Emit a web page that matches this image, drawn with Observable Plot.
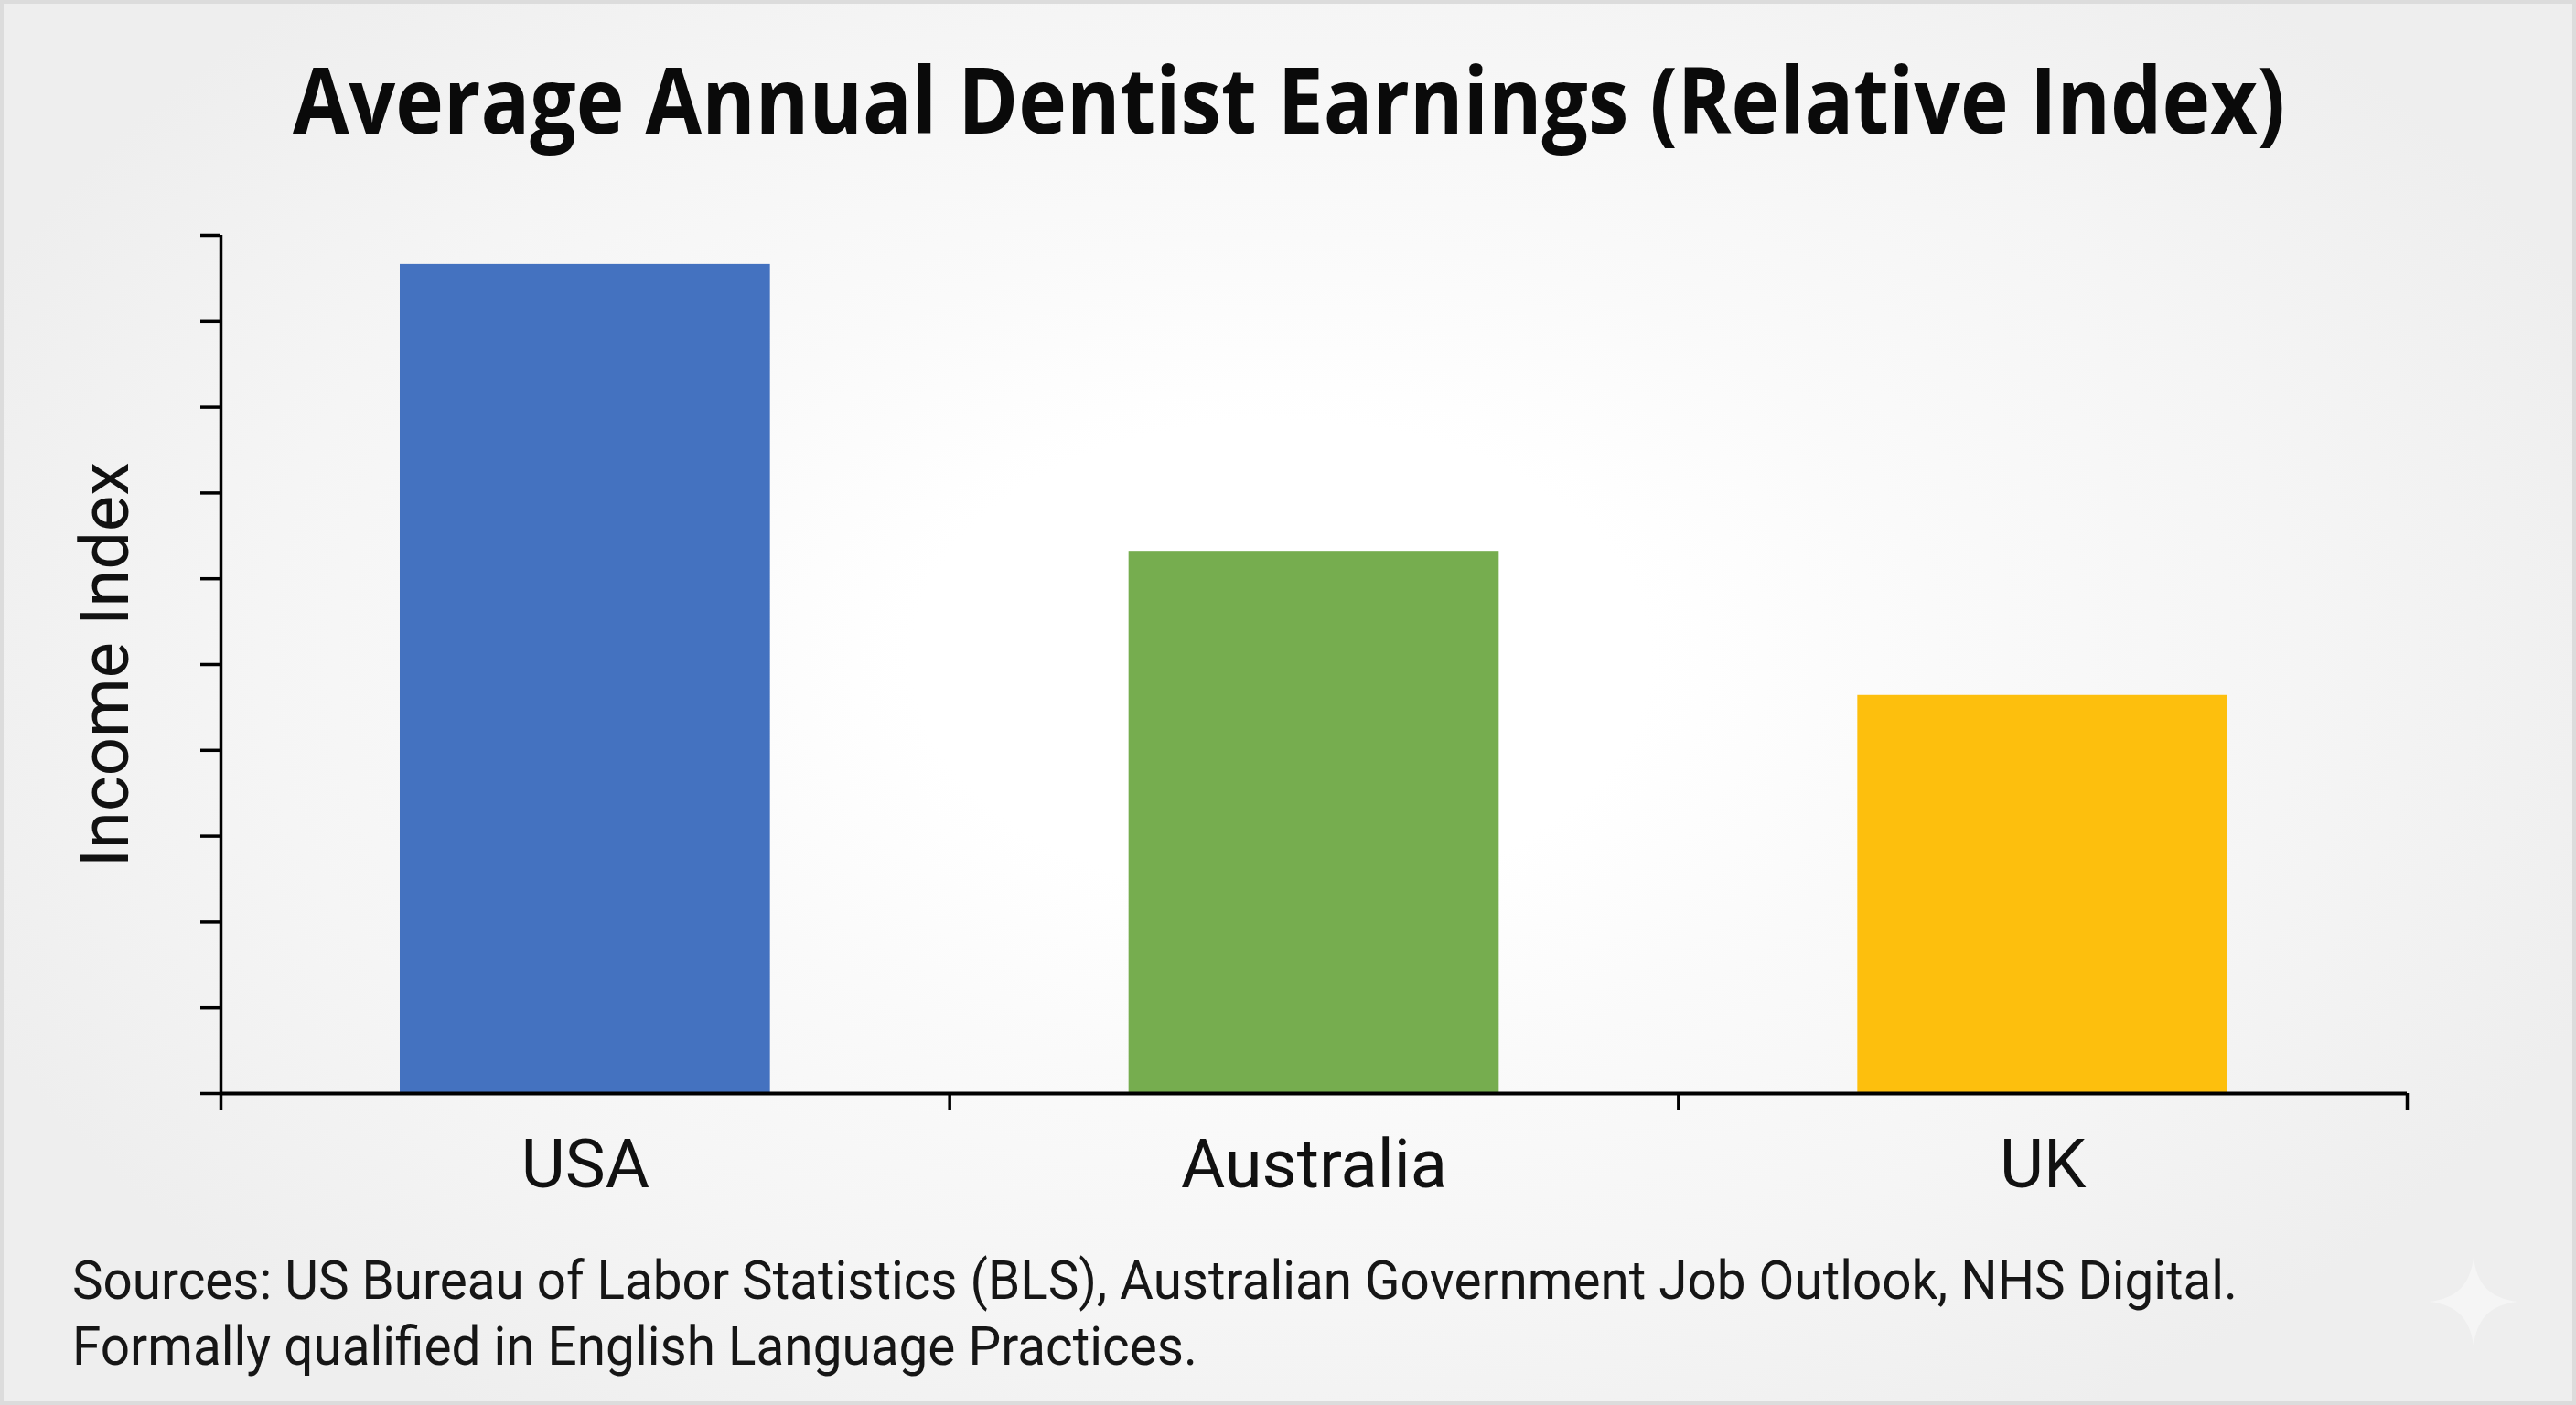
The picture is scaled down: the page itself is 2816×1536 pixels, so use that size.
<!DOCTYPE html>
<html>
<head>
<meta charset="utf-8">
<script src="https://cdn.jsdelivr.net/npm/d3@7"></script>
<script src="https://cdn.jsdelivr.net/npm/@observablehq/plot@0.6"></script>
<style>
  html, body { margin: 0; padding: 0; }
  body {
    width: 2816px; height: 1536px; position: relative; overflow: hidden;
    box-sizing: border-box;
    border: 4px solid #dcdcdc;
    background: radial-gradient(ellipse 1550px 1000px at 1400px 720px, #ffffff 26%, #fafafa 46%, #f5f5f5 72%, #eeeeee 100%);
  }
  #chart { position: absolute; left: -4px; top: -4px; width: 2816px; height: 1536px; }
  #chart svg { display: block; background: transparent; max-width: none; }
  .t { position: absolute; white-space: nowrap; transform-origin: 0 0; color: #0d0d0d; }
  #title { left: 316px; top: 43px; font: 700 100px/1.2 "Open Sans", sans-serif; color: #0a0a0a; }
  .cap { left: 75px; font: 400 59px/72px Roboto, sans-serif; color: #161616; }
  #star { position: absolute; left: 2652px; top: 1371px; width: 96px; height: 96px; background: #f5f5f5;
          clip-path: path("M48 0 C52 30 66 44 96 48 C66 52 52 66 48 96 C44 66 30 52 0 48 C30 44 44 30 48 0 Z"); }
</style>
</head>
<body>
<div id="title" class="t">Average Annual Dentist Earnings (Relative Index)</div>
<div id="chart"></div>
<div id="cap1" class="t cap" style="top:1360px">Sources: US Bureau of Labor Statistics (BLS), Australian Government Job Outlook, NHS Digital.</div>
<div id="cap2" class="t cap" style="top:1432px">Formally qualified in English Language Practices.</div>
<div id="star"></div>
<script>
const categories = ["USA", "Australia", "UK"];
const incomeIndex = [96.6, 63.2, 46.4];
const barColors = ["#4472c0", "#76ad4f", "#fdbf0d"];
const yTicks = [0, 10, 20, 30, 40, 50, 60, 70, 80, 90, 100];
const xEdges = [0, 1, 2, 3];
const xCenters = [0.5, 1.5, 2.5];
const yLabel = "Income Index";

const rows = categories.map((c, i) => ({ c, i, v: incomeIndex[i], color: barColors[i] }));

const plot = Plot.plot({
  width: 2816,
  height: 1536,
  marginLeft: 241,
  marginRight: 185,
  marginTop: 257,
  marginBottom: 341,
  style: { background: "transparent", color: "#000", fontFamily: "Roboto, sans-serif", maxWidth: "none" },
  x: { domain: [0, 3], axis: null },
  y: { domain: [0, 100], axis: null },
  marks: [
    Plot.rectY(rows, { x1: "i", x2: d => d.i + 1, y: "v", fill: "color", insetLeft: 196, insetRight: 196 }),
    Plot.ruleX([0], { stroke: "#000", strokeWidth: 3.5 }),
    Plot.ruleY([0], { stroke: "#000", strokeWidth: 4 }),
    Plot.axisY({ ticks: yTicks, tickSize: 22, strokeWidth: 3.5, stroke: "#000", fill: "none", label: null, tickFormat: () => "" }),
    Plot.axisX({ ticks: xEdges, tickSize: 19, strokeWidth: 3.5, stroke: "#000", fill: "none", label: null, tickFormat: () => "" }),
    Plot.axisX({ ticks: xCenters, tickSize: 0, tickPadding: 50, fontSize: 74, fill: "#111", label: null, tickFormat: d => categories[d - 0.5] }),
    Plot.text([yLabel], { frameAnchor: "left", textAnchor: "middle", rotate: -90, dx: -125, fontSize: 74, fill: "#111" })
  ]
});
document.getElementById("chart").appendChild(plot);

function fit(id, w) {
  const el = document.getElementById(id);
  const r = el.getBoundingClientRect().width;
  el.style.transform = `scaleX(${w / r})`;
}
document.fonts.ready.then(() => {
  fit("title", 2178);
  fit("cap1", 2367);
  fit("cap2", 1230);
});
</script>
</body>
</html>
